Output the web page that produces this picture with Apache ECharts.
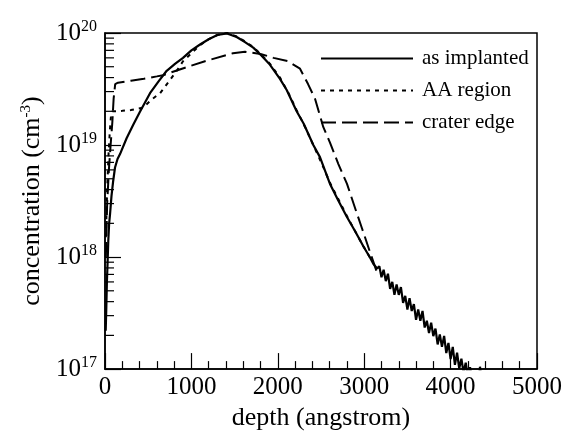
<!DOCTYPE html>
<html>
<head>
<meta charset="utf-8">
<script src="https://cdn.jsdelivr.net/npm/echarts@6/dist/echarts.min.js"></script>
<style>html,body{margin:0;padding:0;background:#fff}#c{width:566px;height:436px}</style>
</head>
<body>
<div id="c"></div>
<script>
var seriesNames = ['as implanted', 'AA region', 'crater edge'];

var implantedDepth = [8, 15, 22, 30, 38, 48, 58, 75, 95, 116, 145, 174, 250, 324, 400, 521, 620, 714, 810, 903, 1000, 1100, 1200, 1300, 1412, 1524, 1620, 1716, 1810, 1910, 2025, 2103, 2218, 2300, 2411, 2488, 2604, 2700, 2797, 2895, 2990, 3070, 3110,
  3150, 3175, 3200, 3225, 3250, 3275, 3300, 3325, 3350, 3375, 3400, 3425, 3450, 3475, 3500, 3525, 3550, 3575, 3600, 3625, 3650, 3675, 3700, 3725, 3750, 3775, 3800, 3825, 3850, 3875, 3900, 3925, 3950, 3975, 4000, 4025, 4050, 4075, 4100, 4125, 4150, 4175, 4200, 4225, 4250, 4275, 4300, 4325, 4340, 4360];
var implantedConc = [2.2e17, 3.5e17, 6e17, 9e17, 1.4e18, 2e18, 2.4e18, 3.5e18, 4.8e18, 6.3e18, 7.5e18, 8.3e18, 1.15e19, 1.5e19, 1.95e19, 2.9e19, 3.7e19, 4.6e19, 5.3e19, 6.0e19, 7.0e19, 7.9e19, 8.8e19, 9.6e19, 9.9e19, 9.2e19, 8.3e19, 7.4e19, 6.3e19, 5.2e19, 3.9e19, 3.1e19, 2.0e19, 1.55e19, 1.0e19, 7.8e18, 4.5e18, 3.2e18, 2.3e18, 1.7e18, 1.25e18, 9.8e17, 8.6e17,
  7.9e17, 8.3e17, 6.6e17, 7.7e17, 6.1e17, 7.1e17, 5.2e17, 6.0e17, 4.6e17, 5.7e17, 4.6e17, 5.4e17, 3.9e17, 4.5e17, 3.4e17, 4.3e17, 3.3e17, 3.8e17, 2.75e17, 3.4e17, 2.7e17, 3.3e17, 2.35e17, 2.7e17, 2.1e17, 2.6e17, 1.97e17, 2.3e17, 1.66e17, 2.04e17, 1.58e17, 1.98e17, 1.39e17, 1.71e17, 1.23e17, 1.58e17, 1.09e17, 1.4e17, 1.01e17, 1.24e17, 9.3e16, 1.14e17, 8.6e16, 1.04e17, 8e16, 8.7e16, 7e16, 7.5e16, 1.05e17, 8e16];

var aaDepth = [10, 25, 40, 55, 70, 85, 200, 300, 440, 540, 637, 752, 830, 903, 1000, 1100, 1200, 1300, 1412, 1524, 1620, 1716, 1810, 1910, 2025, 2120, 2218, 2315, 2411, 2510, 2604, 2700, 2797, 2895, 2990, 3070];
var aaConc = [1.5e18, 4e18, 8e18, 1.3e19, 1.85e19, 2.0e19, 2.02e19, 2.05e19, 2.15e19, 2.55e19, 2.9e19, 3.8e19, 4.6e19, 5.6e19, 6.6e19, 7.8e19, 8.8e19, 9.6e19, 1.0e20, 9.3e19, 8.4e19, 7.5e19, 6.4e19, 5.3e19, 4.0e19, 2.95e19, 2.05e19, 1.45e19, 1.0e19, 6.8e18, 4.6e18, 3.3e18, 2.35e18, 1.7e18, 1.25e18, 9.8e17];

var craterDepth = [10, 25, 45, 65, 85, 100, 118, 150, 300, 450, 600, 671, 926, 1157, 1481, 1620, 1800, 1950, 2118, 2257, 2350, 2430, 2526, 2604, 2700, 2801, 2897, 2975, 3060, 3145];
var craterConc = [1e18, 3e18, 6e18, 1e19, 1.6e19, 2.6e19, 3.5e19, 3.6e19, 3.75e19, 3.9e19, 4.1e19, 4.2e19, 4.9e19, 5.6e19, 6.6e19, 6.8e19, 6.5e19, 6.0e19, 5.6e19, 4.8e19, 3.5e19, 2.6e19, 1.45e19, 1.05e19, 6.8e18, 4.5e18, 2.7e18, 1.8e18, 1.15e18, 7.4e17];

var yTickPowers = [17, 18, 19, 20];
var yMinorTicks = [2e17, 3e17, 4e17, 5e17, 6e17, 7e17, 8e17, 9e17, 2e18, 3e18, 4e18, 5e18, 6e18, 7e18, 8e18, 9e18, 2e19, 3e19, 4e19, 5e19, 6e19, 7e19, 8e19, 9e19];

function pairs(xs, ys) { return xs.map(function (x, i) { return [x, ys[i]]; }); }

var FONT = '"Liberation Serif", "Times New Roman", serif';
var chart = echarts.init(document.getElementById('c'), null, { renderer: 'canvas' });

chart.setOption({
  backgroundColor: '#fff',
  animation: false,
  grid: { left: 105, right: 29, top: 33, bottom: 60, show: true, borderColor: '#000', borderWidth: 1.5, backgroundColor: 'transparent' },
  legend: {
    data: seriesNames,
    orient: 'vertical',
    left: 320,
    top: 48,
    padding: 0,
    itemWidth: 92,
    itemHeight: 14,
    itemGap: 11,
    itemStyle: { opacity: 0 },
    textStyle: { fontFamily: FONT, fontSize: 21, color: '#000', lineHeight: 21, padding: [0, 0, 0, 4] },
    selectedMode: false
  },
  xAxis: {
    type: 'value', min: 0, max: 5000, interval: 1000,
    name: 'depth (angstrom)', nameLocation: 'middle', nameGap: 32,
    nameTextStyle: { fontFamily: FONT, fontSize: 26, color: '#000' },
    axisLine: { lineStyle: { color: '#000', width: 1.5 } },
    axisTick: { inside: true, length: 16, lineStyle: { color: '#000', width: 1.2 } },
    minorTick: { show: true, splitNumber: 5, length: 8, lineStyle: { color: '#000', width: 1.2 } },
    splitLine: { show: false },
    axisLabel: { fontFamily: FONT, fontSize: 25, color: '#000', margin: 6, formatter: function (v) { return String(v); } }
  },
  yAxis: {
    type: 'log', logBase: 10, min: 1e17, max: 1e20,
    name: 'concentration (cm{s|-3})', nameLocation: 'middle', nameGap: 54,
    nameTextStyle: { fontFamily: FONT, fontSize: 26, color: '#000',
      rich: { s: { fontFamily: FONT, fontSize: 15, color: '#000', verticalAlign: 'top', padding: [0, 0, 12, 0] } } },
    axisLine: { show: true, lineStyle: { color: '#000', width: 1.5 } },
    axisTick: { show: true, inside: true, length: 16, lineStyle: { color: '#000', width: 1.2 } },
    splitLine: { show: false },
    axisLabel: {
      margin: 8,
      formatter: function (v) { var p = Math.round(Math.log10(v)); return '{b|10}{s|' + p + '}'; },
      rich: {
        b: { fontFamily: FONT, fontSize: 25, color: '#000' },
        s: { fontFamily: FONT, fontSize: 16, color: '#000', verticalAlign: 'top', padding: [0, 0, 13, 0] }
      }
    }
  },
  series: [
    { name: seriesNames[0], type: 'line', data: pairs(implantedDepth, implantedConc), showSymbol: false, symbol: 'none',
      lineStyle: { color: '#000', width: 2.2 }, itemStyle: { color: '#000' } },
    { name: seriesNames[1], type: 'line', data: pairs(aaDepth, aaConc), showSymbol: false, symbol: 'none',
      lineStyle: { color: '#000', width: 2, type: [4, 5] }, itemStyle: { color: '#000' } },
    { name: seriesNames[2], type: 'line', data: pairs(craterDepth, craterConc), showSymbol: false, symbol: 'none',
      lineStyle: { color: '#000', width: 2, type: [15, 6] }, itemStyle: { color: '#000' } },
    { name: 'yminor', type: 'custom', silent: true, data: yMinorTicks.map(function (v) { return [0, v]; }),
      renderItem: function (params, api) {
        var p = api.coord([0, api.value(1)]);
        return { type: 'line', shape: { x1: p[0], y1: p[1], x2: p[0] + 9, y2: p[1] }, style: { stroke: '#000', lineWidth: 1.2 } };
      } }
  ]
});
</script>
</body>
</html>
